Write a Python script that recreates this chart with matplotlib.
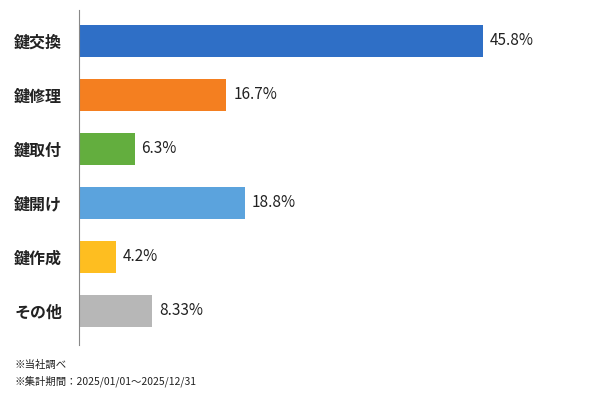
import matplotlib
matplotlib.use("Agg")
import matplotlib.pyplot as plt

plt.rcParams['font.family'] = ['Noto Sans CJK JP', 'DejaVu Sans']

categories = ['鍵交換', '鍵修理', '鍵取付', '鍵開け', '鍵作成', 'その他']
values = [45.8, 16.7, 6.3, 18.8, 4.2, 8.33]
value_labels = ['45.8%', '16.7%', '6.3%', '18.8%', '4.2%', '8.33%']
colors = ['#2F6FC6', '#F47F20', '#63AE3E', '#5BA3DD', '#FEBE20', '#B7B7B7']

fig = plt.figure(figsize=(6, 4), dpi=100)
ax = fig.add_axes([79 / 600, 1 - 345 / 400, 511 / 600, 335 / 400])

pos = list(range(len(categories)))
ax.barh(pos, values, height=0.61, color=colors)
ax.set_xlim(0, 511 / 8.82)
ax.set_ylim(5.63, -0.574)

for p, v, lab in zip(pos, values, value_labels):
    ax.annotate(lab, (v, p), xytext=(5, 0), textcoords='offset points',
                va='center', ha='left', fontsize=11, color='#222222')

ax.set_yticks(pos)
ax.set_yticklabels(categories, fontsize=11.5, fontweight='bold', color='#222222')
ax.tick_params(axis='y', length=0, pad=12)
ax.set_xticks([])
for s in ['top', 'right', 'bottom']:
    ax.spines[s].set_visible(False)
ax.spines['left'].set_color('#888888')
ax.spines['left'].set_linewidth(0.8)

fig.text(14 / 600, 1 - 365 / 400, '※当社調べ', fontsize=7.5, va='center', color='#222222')
fig.text(14 / 600, 1 - 381 / 400, '※集計期間：2025/01/01～2025/12/31', fontsize=7.5,
         va='center', color='#222222')

fig.savefig('out.png', dpi=100)
